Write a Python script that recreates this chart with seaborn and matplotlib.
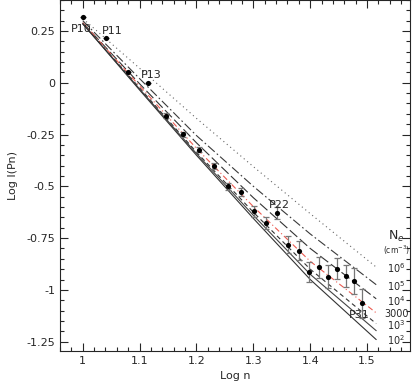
import numpy as np
import pandas as pd
import seaborn as sns
import matplotlib.pyplot as plt
from matplotlib.ticker import FixedLocator, FixedFormatter, MultipleLocator

# observed Paschen lines, upper level n
n_level = np.arange(10, 32)
log_I = [0.317, 0.217, 0.051, -0.003, -0.160, -0.249, -0.324, -0.403, -0.500, -0.527,
         -0.620, -0.677, -0.628, -0.781, -0.810, -0.915, -0.891, -0.936, -0.897, -0.933,
         -0.957, -1.065]
log_I_err = [0, 0, 0, 0, 0.012, 0.012, 0.012, 0.015, 0.018, 0.02,
             0.026, 0.03, 0.028, 0.039, 0.044, 0.048, 0.05, 0.056, 0.052, 0.055,
             0.062, 0.071]
named = {10: 'P10', 11: 'P11', 13: 'P13', 22: 'P22', 31: 'P31'}

# model curves for different electron densities
model_x = [1.0, 1.1, 1.2, 1.3, 1.4, 1.516]
m_1e6 = [0.310, 0.070, -0.172, -0.405, -0.632, -0.890]
m_1e5 = [0.300, 0.020, -0.255, -0.500, -0.730, -0.975]
m_1e4 = [0.290, -0.005, -0.290, -0.555, -0.800, -1.043]
m_3000 = [0.290, -0.015, -0.317, -0.598, -0.862, -1.111]
m_1e3 = [0.285, -0.025, -0.335, -0.625, -0.900, -1.163]
m_extra = [0.285, -0.030, -0.342, -0.640, -0.925, -1.197]
m_1e2 = [0.285, -0.035, -0.350, -0.655, -0.950, -1.240]

model_names = ['1e6', '1e5', '1e4', '3000', '1e3', 'extra', '1e2']
model_vals = [m_1e6, m_1e5, m_1e4, m_3000, m_1e3, m_extra, m_1e2]
ne_labels = ['10$^6$', '10$^5$', '10$^4$', '3000', '10$^3$', '10$^2$']
ne_label_y = [-0.895, -0.982, -1.052, -1.115, -1.170, -1.243]

models = pd.DataFrame({
    'x': np.tile(model_x, len(model_names)),
    'y': np.concatenate(model_vals),
    'ne': np.repeat(model_names, len(model_x)),
})

sns.set_style('ticks')
plt.rcParams['font.family'] = ['DejaVu Sans']
plt.rcParams['axes.unicode_minus'] = False

fig = plt.figure(figsize=(4.12, 3.82), dpi=100)
ax = fig.add_axes([0.1456, 0.0812, 0.849, 0.919])

palette = {'1e6': '#666666', '1e5': '#3a3a3a', '1e4': '#333333', '3000': '#ec5a50',
           '1e3': '#333333', 'extra': '#444444', '1e2': '#333333'}
dashes = {'1e6': (1, 3), '1e5': (8, 2.5, 1.5, 2.5), '1e4': (9, 3), '3000': (5, 2.5, 1, 2.5),
          '1e3': (4, 3), 'extra': '', '1e2': ''}
sns.lineplot(data=models, x='x', y='y', hue='ne', style='ne', palette=palette,
             dashes=dashes, linewidth=0.8, legend=False, sort=False, ax=ax)

log_n = np.log10(n_level)
ax.errorbar(log_n, log_I, yerr=log_I_err, fmt='none', ecolor='#777777',
            elinewidth=0.9, capsize=2.5, capthick=0.9, zorder=3)
sns.scatterplot(x=log_n, y=log_I, color='black', s=14, edgecolor='black',
                linewidth=0, zorder=4, ax=ax)

offsets = {10: (-0.003, -0.055), 11: (0.01, 0.035), 13: (0.007, 0.04),
           22: (0.004, 0.04), 31: (-0.005, -0.058)}
for n, lab in named.items():
    dx, dy = offsets[n]
    ax.text(np.log10(n) + dx, log_I[n - 10] + dy, lab, fontsize=8, ha='center', va='center')

ax.text(1.551, -0.74, 'N$_e$', fontsize=9, ha='center', va='center')
ax.text(1.551, -0.81, '(cm$^{-3}$)', fontsize=5.5, ha='center', va='center')
for lab, yy in zip(ne_labels, ne_label_y):
    ax.text(1.551, yy, lab, fontsize=7, ha='center', va='center')

ax.set_xlim(0.96, 1.575)
ax.set_ylim(-1.295, 0.40)

ax.xaxis.set_major_locator(FixedLocator([1.0, 1.1, 1.2, 1.3, 1.4, 1.5]))
ax.xaxis.set_major_formatter(FixedFormatter(['1', '1.1', '1.2', '1.3', '1.4', '1.5']))
ax.xaxis.set_minor_locator(MultipleLocator(0.02))
ax.yaxis.set_major_locator(FixedLocator([0.25, 0, -0.25, -0.5, -0.75, -1, -1.25]))
ax.yaxis.set_major_formatter(FixedFormatter(['0.25', '0', '-0.25', '-0.5', '-0.75', '-1', '-1.25']))
ax.yaxis.set_minor_locator(MultipleLocator(0.05))
ax.tick_params(which='both', direction='in', top=True, right=True, labelsize=8, width=0.8)
ax.tick_params(which='major', length=6)
ax.tick_params(which='minor', length=3)
for sp in ax.spines.values():
    sp.set_linewidth(0.8)

ax.set_xlabel('Log n', fontsize=8, labelpad=4)
ax.set_ylabel('Log I(Pn)', fontsize=8, labelpad=6)

fig.savefig('out.png', dpi=100)
